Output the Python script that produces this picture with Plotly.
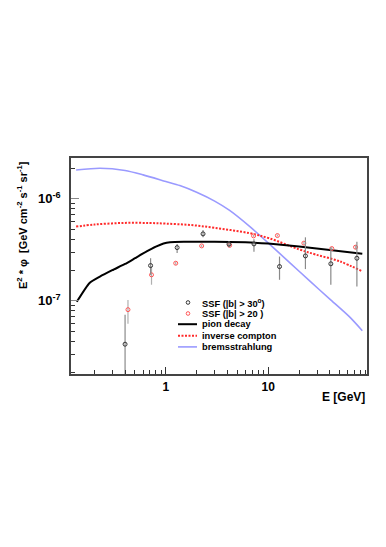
import plotly.graph_objects as go

# ---------------- data ----------------
# model curves (E in GeV, E^2*phi)
pion_E = [0.135, 0.18, 0.227, 0.3, 0.4, 0.5, 0.65, 0.8, 0.95, 1.1, 1.5, 3.0, 6.0, 10.0, 20.0, 40.0, 83.0]
pion_y = [9.8e-8, 1.5e-7, 1.73e-7, 2.0e-7, 2.3e-7, 2.62e-7, 3.05e-7, 3.4e-7, 3.65e-7, 3.76e-7, 3.8e-7,
          3.8e-7, 3.75e-7, 3.65e-7, 3.42e-7, 3.15e-7, 2.9e-7]

ic_E = [0.133, 0.2, 0.38, 0.7, 1.0, 1.71, 3.0, 6.58, 10.3, 20.0, 29.0, 50.0, 81.0]
ic_y = [5.35e-7, 5.6e-7, 5.81e-7, 5.8e-7, 5.72e-7, 5.56e-7, 5.2e-7, 4.61e-7, 4.1e-7, 3.2e-7, 2.85e-7,
        2.44e-7, 1.97e-7]

brems_E = [0.133, 0.227, 0.4, 0.6, 1.0, 1.37, 2.0, 3.0, 4.2, 6.58, 10.3, 16.0, 25.4, 40.0, 62.0, 83.0]
brems_y = [1.92e-6, 2.0e-6, 1.9e-6, 1.72e-6, 1.48e-6, 1.35e-6, 1.16e-6, 9.5e-7, 7.7e-7, 5.37e-7, 3.6e-7,
           2.4e-7, 1.57e-7, 1.04e-7, 7.0e-8, 5.1e-8]

# SSF |b| > 30 deg
b30_E = [0.40, 0.71, 1.29, 2.31, 4.14, 7.26, 12.9, 23.1, 40.9, 73.5]
b30_y = [3.76e-8, 2.22e-7, 3.33e-7, 4.54e-7, 3.60e-7, 3.62e-7, 2.17e-7, 2.76e-7, 2.31e-7, 2.62e-7]
b30_hi = [3.54e-8, 4.0e-8, 2.9e-8, 4.2e-8, 2.5e-8, 4.1e-8, 5.5e-8, 1.44e-7, 1.05e-7, 1.18e-7]
b30_lo = [3.54e-8, 4.2e-8, 3.9e-8, 3.4e-8, 2.5e-8, 5.8e-8, 5.6e-8, 7.1e-8, 8.7e-8, 1.24e-7]

# SSF |b| > 20 deg
b20_E = [0.427, 0.725, 1.25, 2.24, 4.2, 7.2, 12.3, 22.3, 41.8, 71.3]
b20_y = [8.2e-8, 1.8e-7, 2.34e-7, 3.46e-7, 3.5e-7, 4.34e-7, 4.37e-7, 3.68e-7, 3.26e-7, 3.36e-7]
b20_hi = [2.0e-8, 3.7e-8, 8e-9, 8e-9, 8e-9, 1.0e-8, 1.0e-8, 1.2e-8, 1.0e-8, 1.5e-8]
b20_lo = [2.24e-8, 3.6e-8, 8e-9, 8e-9, 8e-9, 1.0e-8, 1.0e-8, 1.2e-8, 1.0e-8, 1.5e-8]

x_tickvals = [1, 10]
x_ticktext = ["1", "10"]
y_tickvals = [1e-7, 1e-6]
y_ticktext = ["10<sup>-7</sup>", "10<sup>-6</sup>"]

legend_labels = ["SSF (|b| > 30<sup>o</sup>)", "SSF (|b| > 20 )", "pion decay", "inverse compton",
                 "bremsstrahlung"]

# ---------------- figure ----------------
# the page body has an 8px margin, so the figure is drawn 8px right/down
OFF = 8
W, H = 386 - OFF, 547 - OFF
L, R, T, B = 71 - OFF, 19, 158 - OFF, 173
PW, PH = W - L - R, H - T - B

BLACK = "#000000"
RED = "#ff2a2a"
BLUE = "#9a9aff"
ERR = "#8a8a8a"
FONT = "Liberation Sans, Arial, Helvetica, sans-serif"

fig = go.Figure()

fig.add_trace(go.Scatter(x=brems_E, y=brems_y, mode="lines",
                         line=dict(color=BLUE, width=1.6, shape="spline", smoothing=0.7),
                         showlegend=False))
fig.add_trace(go.Scatter(x=ic_E, y=ic_y, mode="lines",
                         line=dict(color=RED, width=2, dash="2px,1.5px", shape="spline", smoothing=1.0),
                         showlegend=False))
fig.add_trace(go.Scatter(x=pion_E, y=pion_y, mode="lines",
                         line=dict(color=BLACK, width=2, shape="spline", smoothing=0.5),
                         showlegend=False))

fig.add_trace(go.Scatter(x=b20_E, y=b20_y, mode="markers",
                         marker=dict(symbol="circle-open", size=4, color="#ff5555", line=dict(width=1)),
                         error_y=dict(type="data", array=b20_hi, arrayminus=b20_lo, color="#b0b0b0",
                                      thickness=1.2, width=0),
                         showlegend=False))
fig.add_trace(go.Scatter(x=b30_E, y=b30_y, mode="markers",
                         marker=dict(symbol="circle-open", size=4, color="#333333", line=dict(width=1)),
                         error_y=dict(type="data", array=b30_hi, arrayminus=b30_lo, color=ERR,
                                      thickness=1.2, width=0),
                         showlegend=False))


def px_x(p):
    return (p - OFF - L) / PW


def px_y(p):
    return (H - B - (p - OFF)) / PH


# manual legend (ROOT style, tight spacing); positions in window pixels
rows_y = [302.5, 313.5, 324.2, 335.7, 346.9]
shapes = []
annotations = []
for i, lab in enumerate(legend_labels):
    yy = px_y(rows_y[i])
    annotations.append(dict(x=px_x(200), y=yy, xref="paper", yref="paper", text=lab,
                            showarrow=False, xanchor="left", yanchor="middle",
                            font=dict(family=FONT, size=9.3, color="black", weight="bold")))
r = 1.8
for i, col in enumerate(["#333333", "#ff5555"]):
    cy = rows_y[i]
    shapes.append(dict(type="circle", xref="paper", yref="paper",
                       x0=px_x(188 - r), x1=px_x(188 + r), y0=px_y(cy + r), y1=px_y(cy - r),
                       line=dict(color=col, width=1)))
line_styles = [dict(color=BLACK, width=2), dict(color=RED, width=2, dash="2px,1.5px"),
               dict(color=BLUE, width=1.6)]
for j, ls in enumerate(line_styles):
    cy = rows_y[2 + j]
    shapes.append(dict(type="line", xref="paper", yref="paper",
                       x0=px_x(178), x1=px_x(197), y0=px_y(cy), y1=px_y(cy), line=ls))

# axis titles
annotations.append(dict(x=1.0, y=px_y(397), xref="paper", yref="paper", text="E [GeV]",
                        showarrow=False, xanchor="right", yanchor="middle",
                        font=dict(family=FONT, size=12, color="black", weight="bold")))
annotations.append(dict(x=px_x(22), y=px_y(159), xref="paper", yref="paper",
                        text="E<sup>2</sup> * φ  [GeV cm<sup>-2</sup> s<sup>-1</sup> sr<sup>-1</sup>]",
                        textangle=-90, showarrow=False, xanchor="center", yanchor="top",
                        font=dict(family=FONT, size=11, color="black", weight="bold")))

x_minor = [0.2, 0.3, 0.4, 0.5, 0.6, 0.7, 0.8, 0.9, 2, 3, 4, 5, 6, 7, 8, 9, 20, 30, 40, 50, 60, 70, 80, 90]
y_minor = [2e-8, 3e-8, 4e-8, 5e-8, 6e-8, 7e-8, 8e-8, 9e-8, 2e-7, 3e-7, 4e-7, 5e-7, 6e-7, 7e-7, 8e-7,
           9e-7, 2e-6]

fig.update_layout(
    width=W, height=H,
    margin=dict(l=L, r=R, t=T, b=B, pad=0),
    paper_bgcolor="white", plot_bgcolor="white",
    shapes=shapes, annotations=annotations,
    showlegend=False,
    font=dict(family=FONT, color="black"),
)
fig.update_xaxes(type="log", range=[-0.926, 1.965], tickmode="array", tickvals=x_tickvals,
                 ticktext=x_ticktext, ticks="inside", ticklen=7, tickwidth=1, tickcolor="#333",
                 tickfont=dict(family=FONT, size=12, color="black", weight="bold"),
                 ticklabelstandoff=1,
                 minor=dict(tickmode="array", tickvals=x_minor, ticks="inside", ticklen=4,
                            tickcolor="#333", showgrid=False),
                 showgrid=False, zeroline=False, showline=True, linecolor="#444", linewidth=1.5,
                 mirror=True)
fig.update_yaxes(type="log", range=[-7.717, -5.599], tickmode="array", tickvals=y_tickvals,
                 ticktext=y_ticktext, ticks="inside", ticklen=8, tickwidth=1, tickcolor="#888",
                 tickfont=dict(family=FONT, size=13, color="black", weight="bold"),
                 ticklabelstandoff=6,
                 minor=dict(tickmode="array", tickvals=y_minor, ticks="inside", ticklen=4,
                            tickcolor="#333", showgrid=False),
                 showgrid=False, zeroline=False, showline=True, linecolor="#444", linewidth=1.5,
                 mirror=True)

fig.write_html("out.html")
